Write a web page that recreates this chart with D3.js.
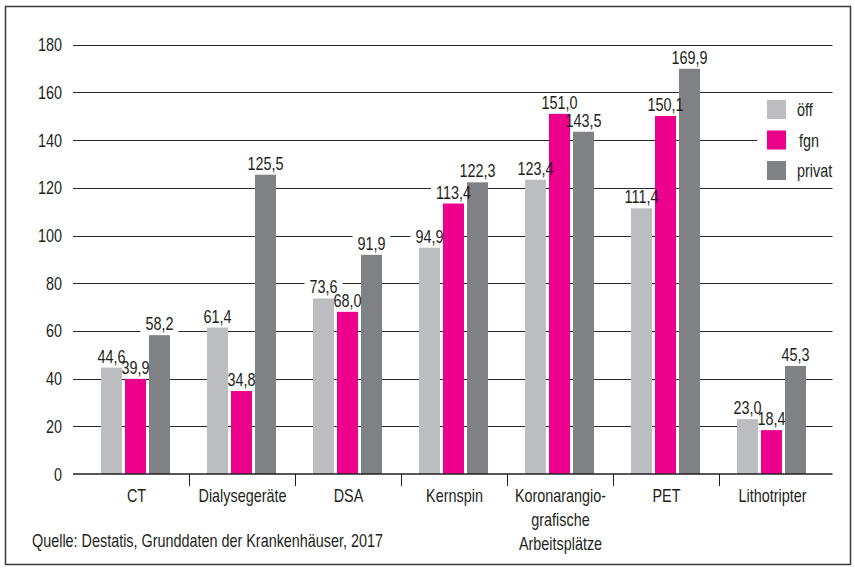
<!DOCTYPE html>
<html>
  <head>
    <meta charset="utf-8">
    <title>Geräte je Krankenhausträger</title>
    <script src="https://d3js.org/d3.v7.min.js"></script>
    <style>
      body { margin: 0; background: #fff; }
      svg { display: block; font-family: "Liberation Sans", Arial, sans-serif; }
      .grid line { stroke: #2a2a2a; stroke-width: 1px; }
      .label { font-size: 18px; fill: #231f20; }
    </style>
  </head>
  <body>
    <div id="chart"></div>
    <script>
      // Data
      const categories = ["CT", "Dialysegeräte", "DSA", "Kernspin", "Koronarangio-\ngrafische\nArbeitsplätze", "PET", "Lithotripter"];
      const series = ["öff", "fgn", "privat"];
      const oeff = [44.6, 61.4, 73.6, 94.9, 123.4, 111.4, 23.0];
      const fgn = [39.9, 34.8, 68.0, 113.4, 151.0, 150.1, 18.4];
      const privat = [58.2, 125.5, 91.9, 122.3, 143.5, 169.9, 45.3];
      const yTicks = [0, 20, 40, 60, 80, 100, 120, 140, 160, 180];
      const source = "Quelle: Destatis, Grunddaten der Krankenhäuser, 2017";

      const colors = { "öff": "#bcbdc1", "fgn": "#ec008c", "privat": "#808185" };
      const values = { "öff": oeff, "fgn": fgn, "privat": privat };

      const W = 855, H = 569;
      const SX = 0.8; // horizontal squeeze to mimic a condensed face
      const svg = d3.select("#chart").append("svg").attr("width", W).attr("height", H);

      // condensed text helper
      function addText(g, x, y, str, anchor) {
        return g.append("text")
          .attr("class", "label")
          .attr("text-anchor", anchor || "start")
          .attr("transform", `translate(${x},${y}) scale(${SX},1)`)
          .text(str);
      }

      // outer frame
      svg.append("rect")
        .attr("x", 5.5).attr("y", 6.5)
        .attr("width", 845).attr("height", 558)
        .attr("fill", "none").attr("stroke", "#3a3a3a").attr("stroke-width", 1.5);

      const x0 = d3.scaleBand().domain(categories).range([82.5, 824.5]);
      const x1 = d3.scaleBand().domain(series).range([0, 69]).paddingInner(0.125);
      const groupOffset = (x0.bandwidth() - 69) / 2;
      const y = d3.scaleLinear().domain([0, 180]).range([474, 44.7]);

      // gridlines
      const grid = svg.append("g").attr("class", "grid");
      grid.selectAll("line")
        .data(yTicks.filter((d) => d > 0))
        .enter()
        .append("line")
        .attr("x1", 73).attr("x2", 832.5)
        .attr("y1", (d) => Math.round(y(d)) + 0.5)
        .attr("y2", (d) => Math.round(y(d)) + 0.5);

      // y tick labels
      const yLab = svg.append("g");
      yTicks.forEach((t) => addText(yLab, 62, y(t) + 6.5, t, "end"));

      // flatten bar data
      const bars = [];
      categories.forEach((c, i) => {
        series.forEach((s) => bars.push({ cat: c, key: s, value: values[s][i] }));
      });
      const fmt = (v) => v.toFixed(1).replace(".", ",");
      const barX = (d) => x0(d.cat) + groupOffset + x1(d.key);

      // white backgrounds behind value labels (break gridlines)
      const bg = svg.append("g");
      // legend background
      svg.append("rect")
        .attr("x", 757).attr("y", 96).attr("width", 80).attr("height", 88)
        .attr("fill", "#fff");

      // bars
      svg.append("g")
        .selectAll("rect")
        .data(bars)
        .enter()
        .append("rect")
        .attr("x", barX)
        .attr("y", (d) => y(d.value))
        .attr("width", x1.bandwidth())
        .attr("height", (d) => y(0) - y(d.value))
        .attr("fill", (d) => colors[d.key]);

      // value labels
      const valG = svg.append("g");
      bars.forEach((d) => {
        const cx = barX(d) + x1.bandwidth() / 2;
        const ty = y(d.value) - 5;
        const t = addText(valG, cx, ty, fmt(d.value), "middle");
        const w = t.node().getComputedTextLength() * SX;
        bg.append("rect")
          .attr("x", cx - w / 2 - 5).attr("y", ty - 14)
          .attr("width", w + 10).attr("height", 16)
          .attr("fill", "#fff");
      });

      // baseline
      svg.append("line")
        .attr("x1", 73).attr("x2", 832.5)
        .attr("y1", y(0)).attr("y2", y(0))
        .attr("stroke", "#231f20").attr("stroke-width", 1.5);

      // category ticks at band boundaries
      svg.append("g")
        .selectAll("line")
        .data(categories.slice(1))
        .enter()
        .append("line")
        .attr("x1", (d) => Math.round(x0(d)) + 0.5)
        .attr("x2", (d) => Math.round(x0(d)) + 0.5)
        .attr("y1", y(0)).attr("y2", y(0) + 12)
        .attr("stroke", "#231f20").attr("stroke-width", 1);

      // category labels
      const catG = svg.append("g");
      categories.forEach((c) => {
        const cx = x0(c) + x0.bandwidth() / 2 + 1;
        c.split("\n").forEach((line, i) => addText(catG, cx, 502 + i * 24, line, "middle"));
      });

      // legend
      const legend = svg.append("g").attr("transform", "translate(767,100)");
      series.forEach((s, i) => {
        legend.append("rect")
          .attr("x", 0).attr("y", i * 30.5)
          .attr("width", 19).attr("height", 19)
          .attr("fill", colors[s]);
        addText(legend, s === "fgn" ? 32 : 30, i * 30.5 + 16, s);
      });

      // source
      addText(svg, 32, 547, source);
    </script>
  </body>
</html>
